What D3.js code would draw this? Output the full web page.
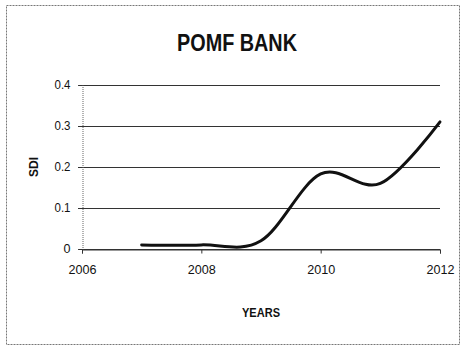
<!DOCTYPE html>
<html>
<head>
<meta charset="utf-8">
<script src="https://cdn.jsdelivr.net/npm/d3@7"></script>
<style>
  html, body { margin: 0; padding: 0; background: #fff; }
  svg { display: block; }
  text { font-family: "Liberation Sans Narrow", "Arial Narrow", "Liberation Sans", sans-serif; fill: #111; }
</style>
</head>
<body>
<svg id="chart" width="465" height="347"></svg>
<script>
// SDI of POMF Bank by year
const years = [2007, 2008, 2009, 2010, 2011, 2012];
const sdi = [0.01, 0.01, 0.02, 0.183, 0.16, 0.31];
const xTicks = [2006, 2008, 2010, 2012];
const yTicks = [0, 0.1, 0.2, 0.3, 0.4];

const svg = d3.select("#chart");
const W = 465, H = 347;
const m = { left: 82, right: 25, top: 85, bottom: 98 };

// chart frame
svg.append("rect")
  .attr("x", 6.5).attr("y", 5.5)
  .attr("width", 453).attr("height", 339)
  .attr("fill", "none").attr("stroke", "#777").attr("stroke-width", 1)
  .attr("stroke-dasharray", "2,1");

const x = d3.scaleLinear().domain([2006, 2012]).range([m.left, W - m.right]);
const y = d3.scaleLinear().domain([0, 0.4]).range([H - m.bottom, m.top]);

// horizontal gridlines
svg.append("g")
  .selectAll("line")
  .data(yTicks)
  .join("line")
  .attr("x1", x(2006) - 4).attr("x2", x(2012))
  .attr("y1", d => Math.round(y(d)) + 0.5).attr("y2", d => Math.round(y(d)) + 0.5)
  .attr("stroke", "#333").attr("stroke-width", 1.2);

// y axis
const yAxis = svg.append("g")
  .attr("transform", `translate(${x(2006) + 0.5},0)`)
  .call(d3.axisLeft(y).tickValues(yTicks).tickSize(4).tickPadding(8)
    .tickFormat(d => d === 0 ? "0" : d3.format(".1f")(d)));
yAxis.select(".domain").attr("stroke", "#666").attr("stroke-dasharray", "1,1");
yAxis.selectAll(".tick line").attr("stroke", "#333");
yAxis.selectAll("text").style("font-size", "12px").style("fill", "#111")
  .attr("textLength", d => d === 0 ? 7 : 16).attr("lengthAdjust", "spacingAndGlyphs");

// x axis
const xAxis = svg.append("g")
  .attr("transform", `translate(0,${Math.round(y(0)) + 0.5})`)
  .call(d3.axisBottom(x).tickValues(xTicks).tickSize(4).tickPadding(12)
    .tickFormat(d3.format("d")));
xAxis.select(".domain").attr("stroke", "#333");
xAxis.selectAll(".tick line").attr("stroke", "#333");
xAxis.selectAll("text").style("font-size", "12px").style("fill", "#111")
  .attr("textLength", 28).attr("lengthAdjust", "spacingAndGlyphs");

// smoothed series line
const line = d3.line()
  .x((d, i) => x(years[i]))
  .y(d => y(d))
  .curve(d3.curveCardinal.tension(0));

svg.append("path")
  .datum(sdi)
  .attr("d", line)
  .attr("fill", "none")
  .attr("stroke", "#111")
  .attr("stroke-width", 3)
  .attr("stroke-linecap", "round");

// title
svg.append("text")
  .attr("x", 237).attr("y", 51)
  .attr("text-anchor", "middle")
  .attr("textLength", 120).attr("lengthAdjust", "spacingAndGlyphs")
  .style("font-size", "24px").style("font-weight", "bold")
  .text("POMF BANK");

// axis titles
svg.append("text")
  .attr("x", 261).attr("y", 317)
  .attr("text-anchor", "middle")
  .attr("textLength", 38).attr("lengthAdjust", "spacingAndGlyphs")
  .style("font-size", "12px").style("font-weight", "bold")
  .text("YEARS");

svg.append("text")
  .attr("transform", `translate(38,${y(0.2)}) rotate(-90)`)
  .attr("text-anchor", "middle")
  .attr("textLength", 20).attr("lengthAdjust", "spacingAndGlyphs")
  .style("font-size", "12px").style("font-weight", "bold")
  .text("SDI");
</script>
</body>
</html>
